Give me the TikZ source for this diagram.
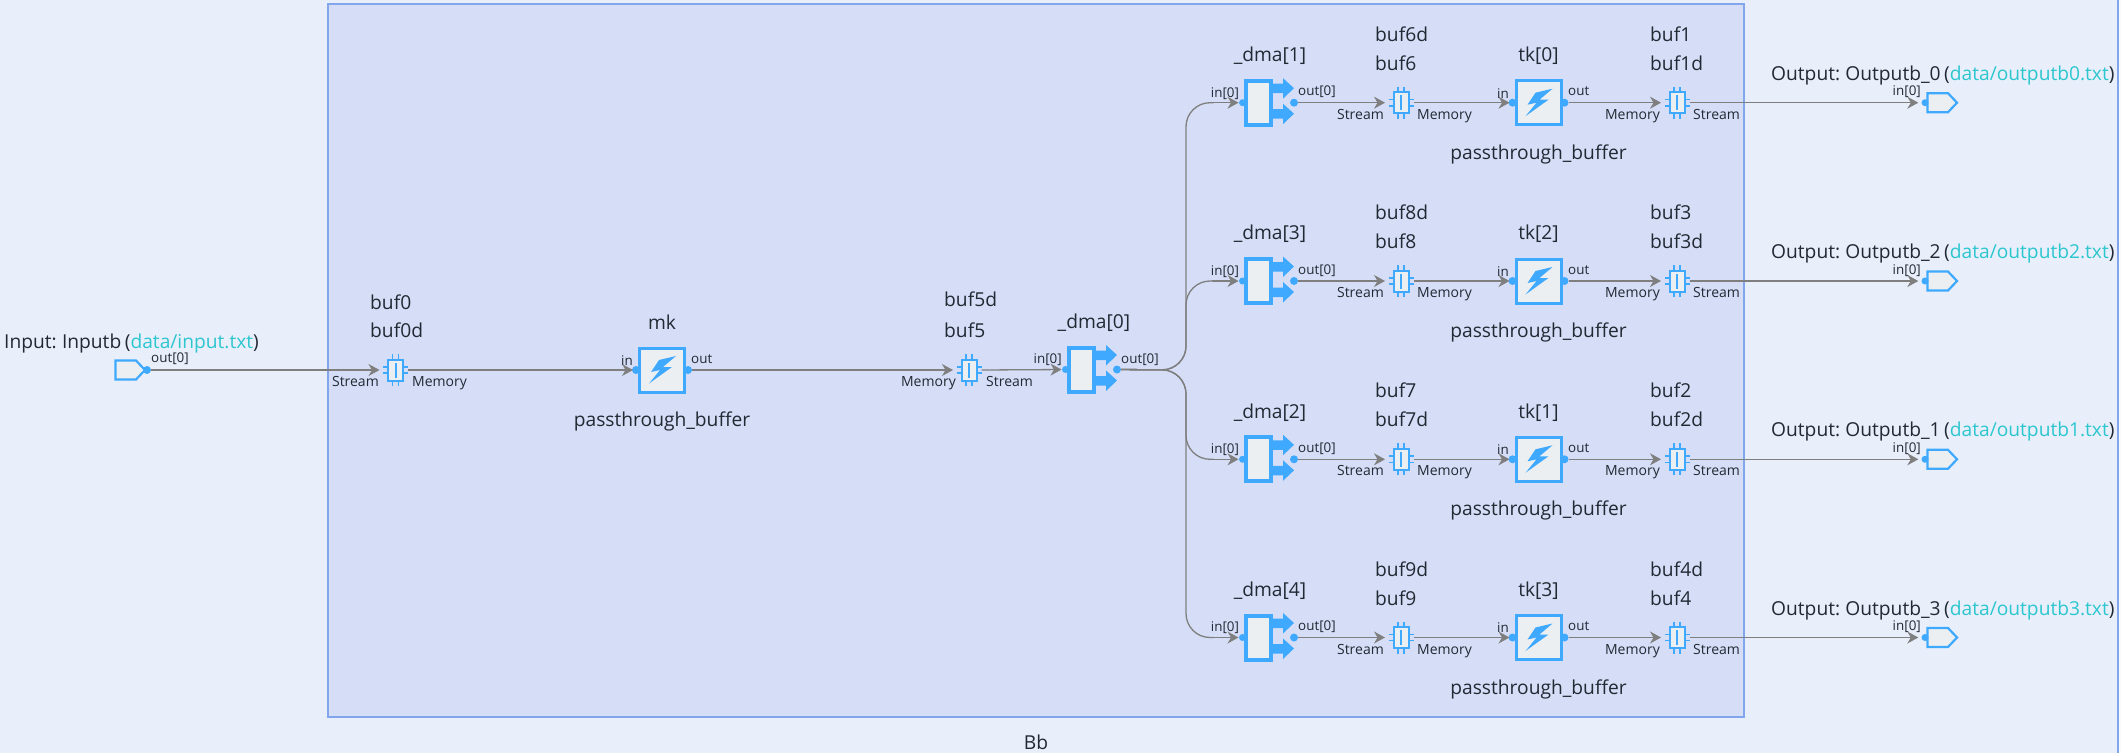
\documentclass[tikz,border=0pt]{standalone}
\usepackage{fontspec}
\setmainfont[WordSpace=0.72]{Open Sans}
\usetikzlibrary{arrows.meta}
\definecolor{pagebg}{HTML}{E8EFFB}
\definecolor{framebg}{HTML}{D6DEF7}
\definecolor{frameline}{HTML}{82A6EC}
\definecolor{iconblue}{HTML}{3FA9FF}
\definecolor{iconfill}{HTML}{ECEFF1}
\definecolor{ink}{HTML}{212934}
\definecolor{wire}{HTML}{7F7F7F}
\definecolor{teal}{HTML}{2CC6CF}
\tikzset{
  biglbl/.style={font=\fontsize{19.2}{22}\selectfont,text=ink,inner sep=0pt},
  smalllbl/.style={font=\fontsize{14}{16}\selectfont,text=ink,inner sep=0pt},
  portlbl/.style={font=\fontsize{13.4}{16}\selectfont,text=ink,inner sep=0pt},
  pinnode/.style={circle,fill=iconblue,inner sep=0pt,minimum size=8pt},
  pbox/.style={draw=iconblue,fill=iconfill,line width=3pt,inner sep=0pt,minimum width=45pt,minimum height=44pt},
  dbox/.style={draw=iconblue,fill=iconfill,line width=4pt,inner sep=0pt,minimum width=25pt,minimum height=44pt},
  bbox/.style={draw=iconblue,fill=iconfill,line width=2pt,inner sep=0pt,minimum width=15pt,minimum height=21pt},
  iolink/.style={draw=wire,line width=1.3pt},
  link/.style={iolink,-{Stealth[length=11pt,width=12pt,inset=3.5pt]}},
  iconline/.style={draw=iconblue,line width=1.5pt},
  ioshape/.style={draw=iconblue,fill=iconfill,line width=2.2pt,line join=miter},
}
% name, x, y
\newcommand{\procblock}[3]{%
  \node[pbox] (#1) at (#2,#3) {};
  \fill[iconblue] ([shift={(14,-14)}]#1.center) -- ++(-17,4) -- ++(-8,12) -- ++(9,-2) -- ++(-11,13.5) -- ++(23,-16.5) -- ++(-9,0) -- cycle;
  \node[pinnode] (#1in) at ([xshift=-2pt]#1.west) {};
  \node[pinnode] (#1out) at ([xshift=2pt]#1.east) {};
}
\newcommand{\dmablock}[3]{%
  \foreach \s in {-14.5,11}{%
    \fill[iconblue] ([shift={(12,\s-4.5)}]#2,#3) -- ++(13,0) -- ++(0,-5.5) -- ++(11,10) -- ++(-11,10.5) -- ++(0,-5.5) -- ++(-13,0) -- cycle;
  }
  \node[dbox] (#1) at (#2,#3) {};
  \node[pinnode,minimum size=7pt] (#1in) at ([xshift=-1pt]#1.west) {};
  \node[pinnode] (#1out) at ([xshift=36pt]#1.center) {};
}
\newcommand{\bufblock}[3]{%
  \foreach \s in {-3.2,3.2}{%
    \draw[iconline] ([shift={(-12.5,\s)}]#2,#3) -- ++(25,0);
    \draw[iconline] ([shift={(\s,-16)}]#2,#3) -- ++(0,32);
  }
  \node[bbox] (#1) at (#2,#3) {};
  \draw[draw=iconblue,line width=2pt] ([yshift=-7.5pt]#1.center) -- ([yshift=7.5pt]#1.center);
  \node[inner sep=0pt,minimum size=0pt] (#1p) at ([xshift=4pt]#1.east) {};
}
\begin{document}
\begin{tikzpicture}[x=1pt,y=-1pt]
\useasboundingbox (0,0) rectangle (2121,753);
\fill[pagebg] (0,0) rectangle (2121,753);
\fill[white!70!pagebg] (2119,0) rectangle (2121,753);
\draw[frameline,line width=2pt] (2118.3,0) -- (2118.3,753);
\node[draw=frameline,fill=framebg,line width=2.8pt,inner sep=0pt,minimum width=1416pt,minimum height=713pt] (frame) at (1036,360.5) {};
\node[biglbl] (frametitle) at (1036,742) {Bb};

% input
\draw[ioshape] (115.5,360.5) -- (136,360.5) -- (145,370) -- (136,379.5) -- (115.5,379.5) -- cycle;
\node[pinnode] (inout) at (147,370) {};
\node[biglbl,anchor=mid west] (inlbl) at (4,345.5) {Input: Inputb (\textcolor{teal}{data/input.txt})};
\node[portlbl,anchor=mid west] (inoutlbl) at (151,360) {out[0]};

% main chain
\bufblock{b0}{395.5}{370}
\bufblock{b5}{969}{370}
\procblock{mk}{662}{370}
\dmablock{d0}{1081}{369.5}
\draw[link,shorten >=7.5pt] (inout) -- (b0);
\draw[link,shorten >=5pt] (b0p) -- (mk.west);
\draw[link,shorten >=7.5pt] (mkout) -- (b5);
\draw[link,shorten >=5pt] (b5p) -- (d0.west);

\node[biglbl,anchor=mid west] (b0a) at (370,307) {buf0};
\node[biglbl,anchor=mid west] (b0b) at (370,335) {buf0d};
\node[smalllbl,anchor=mid east] (b0c) at (379,384) {Stream};
\node[smalllbl,anchor=mid west] (b0d) at (412,384) {Memory};
\node[biglbl] (mkname) at (662,322) {mk};
\node[biglbl] (mktype) at (662,421) {passthrough\_buffer};
\node[portlbl] (mkinl) at (627,360.5) {in};
\node[portlbl,anchor=mid west] (mkoutl) at (691,360.5) {out};
\node[biglbl,anchor=mid west] (b5a) at (944,304) {buf5d};
\node[biglbl,anchor=mid west] (b5b) at (944,335) {buf5};
\node[smalllbl,anchor=mid east] (b5c) at (956,384) {Memory};
\node[smalllbl,anchor=mid west] (b5d) at (986,384) {Stream};
\node[biglbl] (d0name) at (1094,323) {\_dma[0]};
\node[portlbl,anchor=mid east] (d0i) at (1062,360.5) {in[0]};
\node[portlbl,anchor=mid west] (d0o) at (1121,360.5) {out[0]};

\coordinate (bus) at (1186,370);

\foreach \r/\y/\dn/\aa/\ab/\tn/\ca/\cb/\on/\fn in {%
  1/102.7/1/buf6d/buf6/0/buf1/buf1d/0/0,
  2/281/3/buf8d/buf8/2/buf3/buf3d/2/2,
  3/459.3/2/buf7/buf7d/1/buf2/buf2d/1/1,
  4/637.5/4/buf9d/buf9/3/buf4d/buf4/3/3}{%
  \dmablock{dma\r}{1258}{\y}
  \bufblock{ba\r}{1401}{\y}
  \procblock{tk\r}{1538.5}{\y}
  \bufblock{bc\r}{1677}{\y}
  \draw[iolink,rounded corners=24pt] (d0out) -- (bus) |- ([xshift=-30pt]dma\r.west);
  \draw[link,shorten >=5pt] ([xshift=-32pt]dma\r.west) -- (dma\r.west);
  \draw[link,shorten >=7.5pt] (dma\r out) -- (ba\r);
  \draw[link,shorten >=5pt] (ba\r p) -- (tk\r.west);
  \draw[link,shorten >=7.5pt] (tk\r out) -- (bc\r);
  \draw[ioshape] (1927.5,\y-9.5) -- (1948,\y-9.5) -- (1957,\y) -- (1948,\y+9.5) -- (1927.5,\y+9.5) -- cycle;
  \node[pinnode,minimum size=7pt] (op\r) at (1925,\y) {};
  \draw[link,shorten >=3pt] (bc\r p) -- (op\r);
  \node[biglbl] (dmaname\r) at (1270,\y-47) {\_dma[\dn]};
  \node[portlbl] (dmai\r) at (1225,\y-9.5) {in[0]};
  \node[portlbl,anchor=mid west] (dmao\r) at (1298,\y-9.5) {out[0]};
  \node[biglbl,anchor=mid west] (baa\r) at (1375,\y-64) {\aa};
  \node[biglbl,anchor=mid west] (bab\r) at (1375,\y-35) {\ab};
  \node[smalllbl,anchor=mid east] (bac\r) at (1384,\y+14) {Stream};
  \node[smalllbl,anchor=mid west] (bad\r) at (1417,\y+14) {Memory};
  \node[biglbl] (tkname\r) at (1538.5,\y-47) {tk[\tn]};
  \node[biglbl] (tktype\r) at (1538.5,\y+51.5) {passthrough\_buffer};
  \node[portlbl] (tki\r) at (1503,\y-9.5) {in};
  \node[portlbl,anchor=mid west] (tko\r) at (1568,\y-9.5) {out};
  \node[biglbl,anchor=mid west] (bca\r) at (1650,\y-64) {\ca};
  \node[biglbl,anchor=mid west] (bcb\r) at (1650,\y-35) {\cb};
  \node[smalllbl,anchor=mid east] (bcc\r) at (1660,\y+14) {Memory};
  \node[smalllbl,anchor=mid west] (bcd\r) at (1693,\y+14) {Stream};
  \node[biglbl,anchor=mid west] (outlbl\r) at (1771,\y-25) {Output: Outputb\_\on{} (\textcolor{teal}{data/outputb\fn.txt})};
  \node[portlbl,anchor=mid east] (outin\r) at (1921,\y-9.5) {in[0]};
}
\end{tikzpicture}
\end{document}
